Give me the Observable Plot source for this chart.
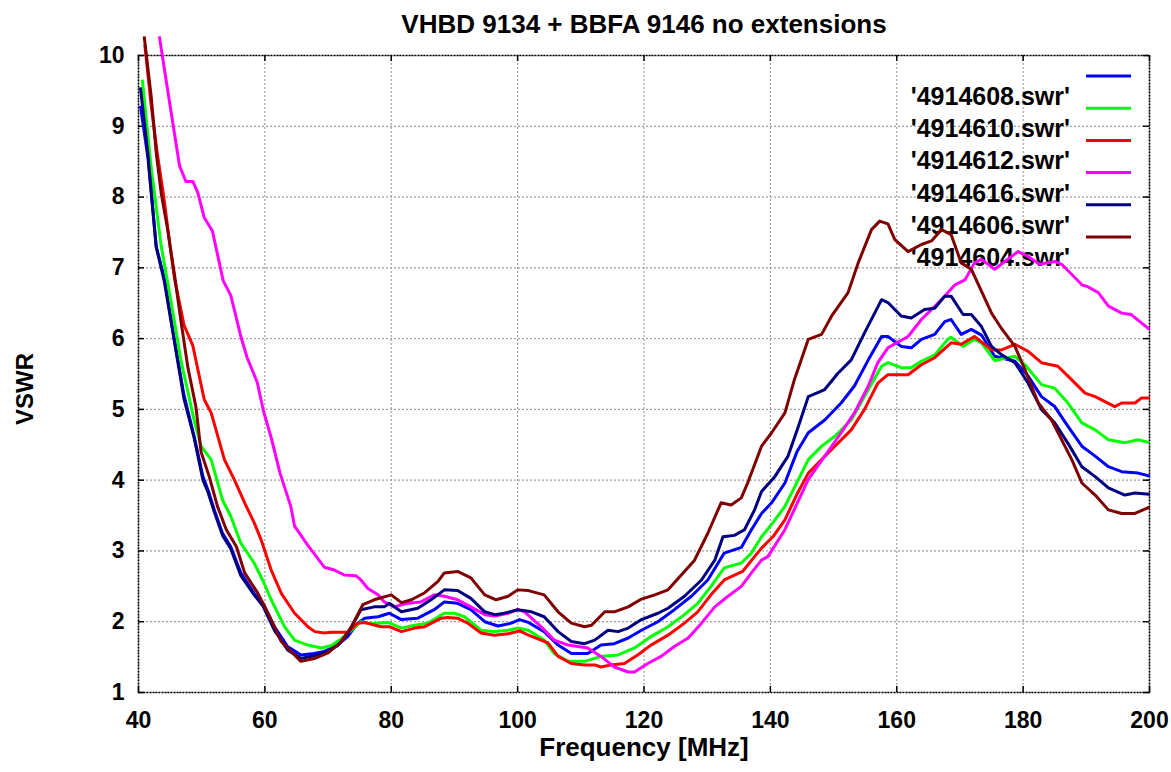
<!DOCTYPE html>
<html>
<head>
<meta charset="utf-8">
<script src="https://cdn.jsdelivr.net/npm/d3@7"></script>
<script src="https://cdn.jsdelivr.net/npm/@observablehq/plot@0.6"></script>
<style>
  html, body { margin: 0; padding: 0; background: #fff; }
  #chart { width: 1171px; height: 772px; }
</style>
</head>
<body>
<div id="chart"></div>
<script>
const chartTitle = "VHBD 9134 + BBFA 9146 no extensions";
const xLabel = "Frequency [MHz]";
const yLabel = "VSWR";
const freqTicks = [40, 60, 80, 100, 120, 140, 160, 180, 200];
const vswrTicks = [1, 2, 3, 4, 5, 6, 7, 8, 9, 10];

const seriesNames = ["'4914608.swr'", "'4914610.swr'", "'4914612.swr'", "'4914616.swr'", "'4914606.swr'", "'4914604.swr'"];
const seriesColors = ["#0000ff", "#00ff00", "#ff0000", "#ff00ff", "#000080", "#800000"];

// [frequency MHz, VSWR]
const s4914608 = [[40.3,9.29],[41.5,8.55],[42.8,7.3],[44.1,6.85],[45.7,5.97],[47.2,5.2],[48.8,4.62],[50.2,4.05],[51.0,3.86],[52.0,3.58],[53.3,3.25],[54.6,3.06],[56.2,2.69],[58.3,2.40],[59.7,2.26],[61.5,1.93],[63.6,1.65],[65.7,1.53],[67.8,1.55],[69.4,1.58],[71.5,1.67],[73.1,1.79],[74.7,1.98],[75.8,2.05],[77.9,2.07],[79.7,2.12],[81.6,2.03],[84.2,2.05],[86.8,2.17],[88.4,2.28],[90.5,2.26],[92.6,2.17],[94.8,2.0],[96.9,1.94],[99.0,1.98],[100.3,2.03],[101.7,1.99],[104.2,1.86],[106.4,1.67],[108.5,1.55],[111.1,1.55],[113.2,1.67],[115.3,1.69],[117.5,1.77],[119.6,1.88],[122.2,2.0],[124.8,2.17],[127.5,2.36],[130.1,2.59],[132.7,2.97],[135.4,3.05],[137.0,3.30],[138.6,3.53],[140.2,3.68],[142.3,3.96],[144.2,4.4],[146.0,4.67],[148.6,4.85],[151.2,5.09],[153.3,5.33],[155.5,5.70],[157.6,6.03],[158.6,6.03],[160.7,5.89],[162.3,5.87],[163.9,5.99],[166.0,6.06],[167.6,6.24],[168.6,6.27],[170.2,6.06],[171.8,6.13],[173.4,6.05],[175.5,5.75],[178.7,5.68],[180.8,5.47],[182.9,5.18],[185.0,5.04],[187.1,4.76],[189.3,4.48],[191.4,4.34],[193.5,4.19],[195.6,4.12],[198.2,4.10],[200,4.06]];

const s4914610 = [[40.6,9.66],[42.0,8.42],[43.6,7.3],[45.1,6.55],[46.7,5.7],[48.8,4.85],[49.9,4.48],[51.5,4.29],[53.3,3.72],[54.6,3.49],[56.2,3.11],[58.3,2.83],[59.9,2.54],[61.0,2.31],[63.1,1.93],[64.7,1.74],[66.8,1.67],[68.9,1.63],[70.5,1.66],[72.1,1.76],[73.7,1.88],[75.2,2.0],[76.8,1.97],[79.5,1.99],[81.6,1.91],[83.7,1.95],[85.8,1.98],[88.4,2.12],[90.0,2.12],[91.6,2.07],[94.2,1.88],[96.3,1.86],[98.5,1.88],[100.0,1.91],[101.7,1.88],[104.2,1.74],[105.8,1.55],[108.0,1.44],[110.6,1.44],[113.2,1.51],[115.9,1.53],[118.5,1.63],[121.1,1.79],[123.8,1.93],[126.4,2.10],[128.5,2.26],[130.6,2.50],[132.7,2.76],[135.4,2.83],[137.0,2.97],[138.6,3.20],[140.4,3.4],[142.3,3.63],[146.0,4.29],[148.1,4.48],[150.2,4.62],[152.8,4.85],[155.5,5.28],[157.6,5.61],[158.6,5.66],[160.7,5.59],[162.3,5.59],[163.9,5.68],[166.0,5.77],[168.1,5.99],[168.6,6.02],[170.5,5.89],[172.3,5.99],[173.4,5.94],[175.5,5.69],[178.7,5.75],[180.3,5.63],[182.9,5.35],[185.0,5.30],[187.1,5.09],[189.3,4.81],[191.4,4.71],[193.5,4.57],[196.1,4.53],[198.2,4.57],[200,4.53]];

const s4914612 = [[41.0,10.15],[42.0,9.3],[43.0,8.6],[44.0,8.0],[45.0,7.3],[45.7,6.85],[47.2,6.19],[48.6,5.9],[50.4,5.14],[51.5,4.95],[53.6,4.29],[55.2,4.0],[56.8,3.68],[58.3,3.4],[59.4,3.16],[61.0,2.73],[62.6,2.40],[64.7,2.12],[66.8,1.93],[67.9,1.86],[69.4,1.84],[70.5,1.85],[73.1,1.85],[74.7,1.98],[75.8,1.99],[78.4,1.93],[79.7,1.93],[81.6,1.86],[83.7,1.91],[85.3,1.93],[87.9,2.05],[88.9,2.06],[90.5,2.05],[92.1,1.98],[94.2,1.84],[96.3,1.81],[98.5,1.83],[100.3,1.87],[101.7,1.81],[104.8,1.70],[106.4,1.51],[108.5,1.41],[110.6,1.39],[112.2,1.39],[113.2,1.36],[114.8,1.39],[116.9,1.41],[119.0,1.53],[121.1,1.67],[123.8,1.81],[126.4,1.98],[128.5,2.14],[130.6,2.38],[132.7,2.59],[135.6,2.71],[137.5,2.92],[138.6,3.04],[140.4,3.2],[142.3,3.44],[144.2,3.8],[146.0,4.10],[148.1,4.29],[150.2,4.48],[152.8,4.71],[154.9,5.0],[157.0,5.37],[158.6,5.49],[161.8,5.49],[163.9,5.63],[166.0,5.73],[168.6,5.94],[170.2,5.92],[172.3,6.03],[175.0,5.84],[176.6,5.84],[178.7,5.92],[180.8,5.82],[182.9,5.66],[185.5,5.61],[187.1,5.47],[189.8,5.23],[191.4,5.18],[194.5,5.04],[195.6,5.09],[197.7,5.09],[198.7,5.16],[200,5.16]];

const s4914616 = [[43.3,10.27],[44.6,9.52],[46.5,8.44],[47.5,8.22],[48.6,8.22],[49.4,8.06],[50.4,7.71],[51.7,7.52],[53.4,6.82],[54.6,6.61],[56.2,6.03],[57.2,5.73],[58.8,5.38],[59.8,4.97],[61.0,4.6],[62.4,4.1],[64.1,3.63],[64.7,3.35],[66.8,3.08],[69.4,2.77],[71.0,2.73],[72.6,2.66],[74.4,2.65],[75.2,2.59],[76.3,2.47],[77.9,2.38],[78.9,2.28],[80.5,2.21],[81.6,2.24],[82.6,2.26],[84.7,2.28],[86.8,2.38],[88.4,2.36],[90.5,2.31],[92.6,2.21],[94.8,2.10],[96.4,2.08],[98.5,2.12],[100.0,2.17],[101.1,2.14],[103.7,1.93],[105.8,1.74],[108.0,1.67],[111.1,1.63],[113.2,1.51],[115.3,1.36],[117.5,1.29],[118.5,1.29],[120.6,1.41],[122.7,1.51],[124.8,1.65],[127.0,1.77],[129.1,1.98],[131.2,2.21],[133.3,2.36],[135.4,2.50],[137.0,2.69],[138.6,2.87],[139.6,2.92],[142.3,3.30],[146.0,4.01],[148.6,4.34],[151.2,4.67],[153.3,4.95],[155.5,5.33],[157.0,5.66],[158.6,5.87],[161.8,6.03],[163.9,6.27],[167.1,6.55],[169.2,6.76],[170.8,6.83],[172.3,7.07],[173.4,7.12],[175.5,6.98],[177.1,7.09],[179.2,7.23],[180.8,7.16],[182.6,7.05],[185.0,7.09],[186.1,7.05],[189.3,6.76],[190.3,6.73],[191.9,6.65],[193.5,6.46],[195.6,6.36],[197.1,6.34],[200,6.13]];

const s4914606 = [[40.3,9.55],[41.5,8.6],[42.8,7.3],[44.1,6.8],[45.7,5.95],[47.2,5.15],[48.8,4.6],[50.2,4.0],[51.0,3.83],[52.0,3.55],[53.3,3.22],[54.6,3.03],[56.2,2.65],[58.3,2.38],[59.7,2.22],[61.5,1.88],[63.6,1.6],[65.7,1.48],[67.8,1.52],[69.4,1.56],[71.5,1.66],[73.1,1.83],[75.2,2.17],[77.3,2.21],[78.9,2.21],[79.7,2.26],[81.6,2.14],[84.2,2.19],[86.3,2.31],[88.4,2.45],[90.5,2.44],[92.6,2.33],[94.8,2.14],[96.4,2.10],[97.9,2.12],[100.0,2.17],[102.2,2.14],[104.2,2.07],[106.4,1.86],[108.5,1.72],[110.6,1.69],[112.2,1.74],[114.3,1.88],[115.9,1.86],[117.5,1.91],[119.6,2.03],[122.2,2.12],[123.8,2.19],[126.4,2.36],[129.1,2.59],[131.2,2.87],[132.5,3.20],[134.3,3.22],[135.9,3.30],[137.5,3.58],[138.6,3.84],[140.7,4.05],[142.8,4.34],[144.4,4.75],[146.0,5.18],[148.6,5.28],[150.7,5.51],[152.8,5.70],[154.9,6.08],[157.6,6.55],[158.6,6.51],[160.7,6.32],[162.3,6.29],[164.4,6.41],[166.0,6.43],[167.6,6.60],[168.6,6.60],[170.5,6.34],[171.8,6.34],[173.4,6.17],[175.0,5.89],[176.6,5.77],[178.7,5.66],[180.8,5.37],[182.9,5.0],[185.0,4.81],[187.1,4.52],[189.3,4.19],[191.4,4.05],[193.5,3.89],[196.1,3.79],[197.7,3.82],[200,3.80]];

const s4914604 = [[40.9,10.27],[42.0,9.43],[42.8,8.63],[43.6,8.05],[44.6,7.55],[45.7,6.9],[46.7,6.26],[47.8,5.6],[49.1,5.03],[49.9,4.4],[51.2,4.05],[52.5,3.63],[53.9,3.30],[55.5,3.06],[56.8,2.69],[58.9,2.40],[60.5,2.12],[62.6,1.72],[65.7,1.44],[67.8,1.48],[70.0,1.56],[72.1,1.72],[73.7,1.93],[75.5,2.24],[77.3,2.31],[80.0,2.38],[81.6,2.27],[83.2,2.31],[85.3,2.41],[87.4,2.57],[88.4,2.69],[90.5,2.71],[92.6,2.62],[94.8,2.38],[96.6,2.31],[98.5,2.36],[100.0,2.45],[101.7,2.44],[104.2,2.38],[106.4,2.14],[108.5,1.98],[110.6,1.93],[111.7,1.95],[113.8,2.14],[115.3,2.14],[117.5,2.21],[119.6,2.32],[121.7,2.38],[123.8,2.45],[126.4,2.71],[128.0,2.87],[130.1,3.25],[132.2,3.68],[133.8,3.65],[135.4,3.75],[136.4,3.96],[138.6,4.48],[140.2,4.67],[142.3,4.95],[143.8,5.42],[146.0,5.99],[148.1,6.06],[149.7,6.32],[152.3,6.65],[153.9,7.07],[156.0,7.54],[157.3,7.66],[158.6,7.62],[159.7,7.40],[161.8,7.23],[163.9,7.33],[165.5,7.38],[167.1,7.54],[168.6,7.47],[170.2,7.07],[171.8,6.98],[173.4,6.67],[175.0,6.36],[176.6,6.14],[178.7,5.89],[180.3,5.56],[182.4,5.09],[184.5,4.85],[186.1,4.57],[187.7,4.29],[189.3,3.96],[191.4,3.79],[193.5,3.58],[195.6,3.53],[197.7,3.53],[200,3.62]];

const seriesData = [s4914608, s4914610, s4914612, s4914616, s4914606, s4914604];

const font = "'Liberation Sans', Arial, Helvetica, sans-serif";
const xDom = [freqTicks[0], freqTicks[freqTicks.length - 1]];
const yDom = [vswrTicks[0], vswrTicks[vswrTicks.length - 1]];

const W = 1171, H = 772;
const mTop = 55, mBottom = 80, mLeft = 138, mRight = 22;
const pxX = (xDom[1] - xDom[0]) / (W - mLeft - mRight);
const pxY = (yDom[1] - yDom[0]) / (H - mTop - mBottom);
const tickLen = 6;

const lineMarks = seriesData.map((s, i) =>
  Plot.line(s.map(([f, v]) => ({f, v})), {
    x: "f", y: "v", stroke: seriesColors[i], strokeWidth: 3,
    strokeLinejoin: "round", strokeLinecap: "butt"
  })
);

const gridStyle = {stroke: "#a0a0a0", strokeOpacity: 1, strokeWidth: 1.2, strokeDasharray: "2,2"};

const chart = Plot.plot({
  width: W, height: H,
  marginTop: mTop, marginBottom: mBottom, marginLeft: mLeft, marginRight: mRight,
  style: {fontFamily: font, fontWeight: "bold", color: "#000", background: "#fff"},
  x: {domain: xDom},
  y: {domain: yDom},
  marks: [
    Plot.gridX(freqTicks, gridStyle),
    Plot.gridY(vswrTicks, gridStyle),
    Plot.axisX(freqTicks, {tickSize: 0, tickPadding: 19, fontSize: 23, fontWeight: "bold", label: null, tickFormat: d => String(d)}),
    Plot.axisY(vswrTicks, {tickSize: 0, tickPadding: 14, fontSize: 23, fontWeight: "bold", label: null, tickFormat: d => String(d)}),
    // inward tick marks on all four sides (gnuplot mirror style)
    Plot.ruleX(freqTicks, {x: d => d, y1: yDom[0], y2: yDom[0] + tickLen * pxY, stroke: "#000", strokeWidth: 1.5}),
    Plot.ruleX(freqTicks, {x: d => d, y1: yDom[1], y2: yDom[1] - tickLen * pxY, stroke: "#000", strokeWidth: 1.5}),
    Plot.ruleY(vswrTicks, {y: d => d, x1: xDom[0], x2: xDom[0] + tickLen * pxX, stroke: "#000", strokeWidth: 1.5}),
    Plot.ruleY(vswrTicks, {y: d => d, x1: xDom[1], x2: xDom[1] - tickLen * pxX, stroke: "#000", strokeWidth: 1.5}),
    Plot.frame({stroke: "#000", strokeWidth: 1.6, strokeDasharray: "2,1"}),
    Plot.text([chartTitle], {frameAnchor: "top", dy: -41, text: d => d, fontSize: 26, fontWeight: "bold", fill: "#000"}),
    Plot.text([xLabel], {frameAnchor: "bottom", dy: 45, lineAnchor: "top", text: d => d, fontSize: 26, fontWeight: "bold", fill: "#000"}),
    Plot.text([yLabel], {frameAnchor: "left", dx: -113, dy: 15, rotate: -90, textAnchor: "middle", text: d => d, fontSize: 24, fontWeight: "bold", fill: "#000"}),
    ...lineMarks
  ]
});

document.getElementById("chart").appendChild(chart);

// Legend (gnuplot key, top right, drawn beneath the curves)
const firstLine = chart.querySelector('g[aria-label="line"]');
const key = d3.select(chart.insertBefore(document.createElementNS("http://www.w3.org/2000/svg", "g"), firstLine));
const keyRight = W - mRight;
const sampleX1 = keyRight - 63, sampleX2 = keyRight - 18;
const textX = keyRight - 79;
const rowH = 32.2;
seriesNames.forEach((name, i) => {
  key.append("line")
    .attr("x1", sampleX1).attr("x2", sampleX2)
    .attr("y1", mTop + 21 + i * rowH).attr("y2", mTop + 21 + i * rowH)
    .attr("stroke", seriesColors[i]).attr("stroke-width", 3);
  key.append("text")
    .attr("x", textX).attr("y", mTop + 41 + i * rowH)
    .attr("text-anchor", "end").attr("dominant-baseline", "central")
    .attr("font-family", font).attr("font-weight", "bold").attr("font-size", 25)
    .attr("fill", "#000")
    .text(name);
});
</script>
</body>
</html>
